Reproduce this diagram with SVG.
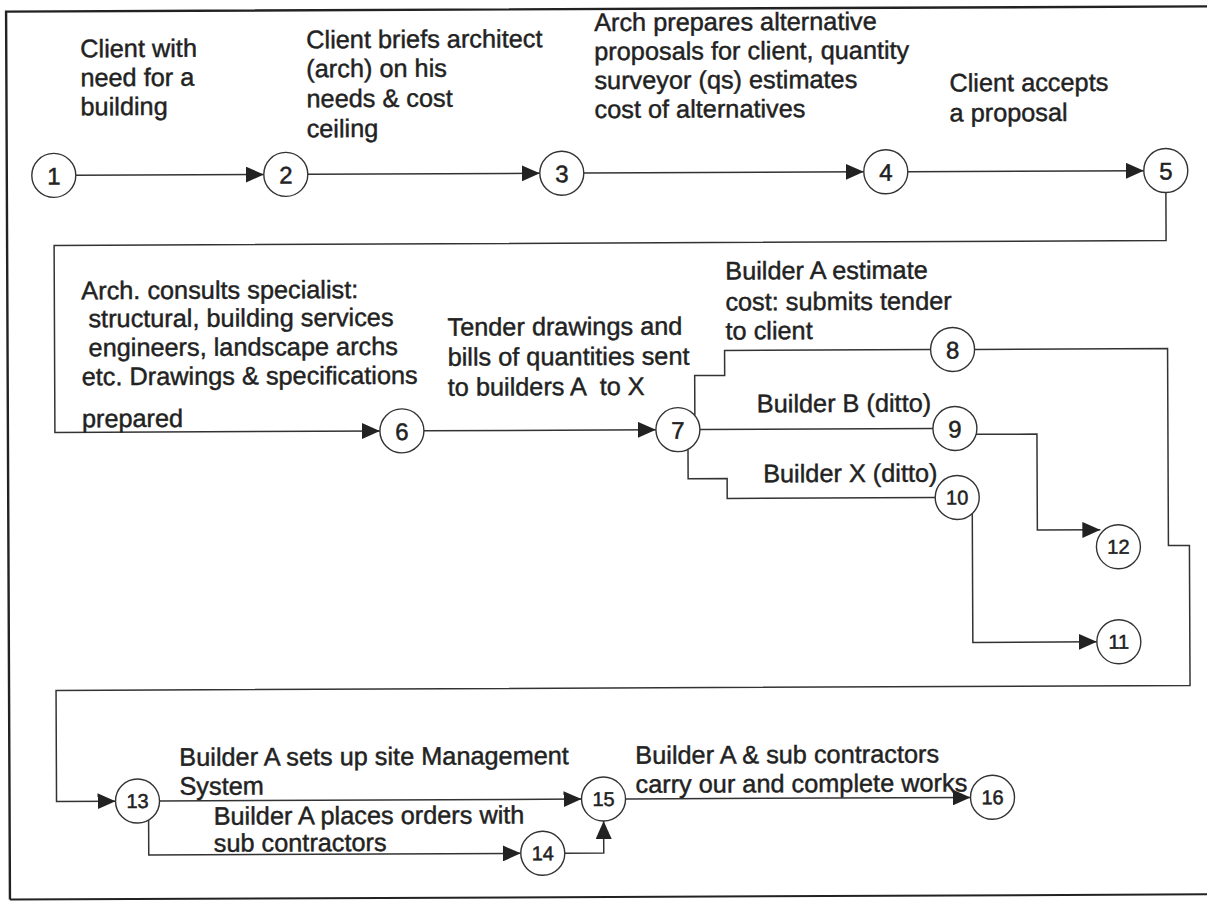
<svg xmlns="http://www.w3.org/2000/svg" width="1207" height="901" viewBox="0 0 1207 901">
  <style>
    .lbl { font-family: "Liberation Sans", Arial, sans-serif; font-size: 25.3px; fill: #222; stroke: #222; stroke-width: 0.45; }
    .num { font-family: "Liberation Sans", Arial, sans-serif; font-size: 24px; fill: #222; stroke: #222; stroke-width: 0.5; text-anchor: middle; }
    .num2 { font-family: "Liberation Sans", Arial, sans-serif; font-size: 20px; fill: #222; stroke: #222; stroke-width: 0.5; text-anchor: middle; }
    .node circle { fill: #fff; stroke: #333; stroke-width: 1.4; }
    .conn path { fill: none; stroke: #333; stroke-width: 1.5; }
    .arrow { marker-end: url(#arr); }
    .frame { fill: none; stroke: #222; }
  </style>
  <defs>
    <marker id="arr" viewBox="0 0 18 16" refX="18" refY="8" markerWidth="18" markerHeight="16" markerUnits="userSpaceOnUse" orient="auto">
      <path d="M0,0 L18,8 L0,16 z" fill="#222"/>
    </marker>
  </defs>
  <rect width="1207" height="901" fill="#fff"/>

  <!-- whole sheet sits slightly tilted -->
  <g transform="rotate(-0.25 603 450)">
    <!-- outer frame -->
    <path class="frame" d="M1215,9 H8 V897" stroke-width="2.4"/>
    <path class="frame" d="M8,897 H1215" stroke-width="2" stroke="#444"/>

    <!-- connectors -->
    <g class="conn" id="connectors">
      <path class="arrow" d="M77,173 H265"/>
      <path class="arrow" d="M309,173 H541"/>
      <path class="arrow" d="M585,173 H865"/>
      <path class="arrow" d="M909,173 H1145"/>
      <path class="arrow" d="M1167,195 V243 H55 V430 H380"/>
      <path class="arrow" d="M424,430 H656"/>
      <path d="M695,416 V376 H725 V351 H931"/>
      <path d="M700,430 H933"/>
      <path d="M688,450 V479 H727 V499 H935"/>
      <path class="arrow" d="M976,436 H1037 V532 H1100"/>
      <path class="arrow" d="M972,515 V644 H1096"/>
      <path class="arrow" d="M975,351 H1168 V548 H1189 V688 H55 V799 H114"/>
      <path class="arrow" d="M158,799 H580"/>
      <path class="arrow" d="M147,818 V853 H519"/>
      <path class="arrow" d="M563,853 H602 V821"/>
      <path class="arrow" d="M624,799 H969"/>
    </g>

    <!-- activity labels -->
    <g id="labels">
      <text class="lbl" x="82" y="55">Client with</text>
      <text class="lbl" x="82" y="84">need for a</text>
      <text class="lbl" x="82" y="113">building</text>

      <text class="lbl" x="308" y="47">Client briefs architect</text>
      <text class="lbl" x="308" y="76">(arch) on his</text>
      <text class="lbl" x="308" y="106">needs &amp; cost</text>
      <text class="lbl" x="308" y="136">ceiling</text>

      <text class="lbl" x="596" y="31">Arch prepares alternative</text>
      <text class="lbl" x="596" y="60">proposals for client, quantity</text>
      <text class="lbl" x="596" y="89">surveyor (qs) estimates</text>
      <text class="lbl" x="596" y="118">cost of alternatives</text>

      <text class="lbl" x="951" y="93">Client accepts</text>
      <text class="lbl" x="951" y="123">a proposal</text>

      <text class="lbl" x="82" y="297">Arch. consults specialist:</text>
      <text class="lbl" x="89" y="325">structural, building services</text>
      <text class="lbl" x="89" y="354">engineers, landscape archs</text>
      <text class="lbl" x="82" y="383">etc. Drawings &amp; specifications</text>
      <text class="lbl" x="82" y="425">prepared</text>

      <text class="lbl" x="448" y="335">Tender drawings and</text>
      <text class="lbl" x="448" y="365">bills of quantities sent</text>
      <text class="lbl" x="448" y="395" xml:space="preserve">to builders A  to X</text>

      <text class="lbl" x="726" y="280">Builder A estimate</text>
      <text class="lbl" x="726" y="311">cost: submits tender</text>
      <text class="lbl" x="726" y="340">to client</text>

      <text class="lbl" x="757" y="413">Builder B (ditto)</text>
      <text class="lbl" x="763" y="483">Builder X (ditto)</text>

      <text class="lbl" x="178" y="764">Builder A sets up site Management</text>
      <text class="lbl" x="178" y="793">System</text>
      <text class="lbl" x="212" y="823">Builder A places orders with</text>
      <text class="lbl" x="212" y="850">sub contractors</text>

      <text class="lbl" x="634" y="764">Builder A &amp; sub contractors</text>
      <text class="lbl" x="634" y="793">carry our and complete works</text>
    </g>

    <!-- event nodes -->
    <g class="node" id="n1"><circle cx="55" cy="173" r="22"/><text class="num" x="55" y="182">1</text></g>
    <g class="node" id="n2"><circle cx="287" cy="173" r="22"/><text class="num" x="287" y="182">2</text></g>
    <g class="node" id="n3"><circle cx="563" cy="173" r="22"/><text class="num" x="563" y="182">3</text></g>
    <g class="node" id="n4"><circle cx="887" cy="173" r="22"/><text class="num" x="887" y="182">4</text></g>
    <g class="node" id="n5"><circle cx="1167" cy="173" r="22"/><text class="num" x="1167" y="182">5</text></g>
    <g class="node" id="n6"><circle cx="402" cy="430" r="22"/><text class="num" x="402" y="439">6</text></g>
    <g class="node" id="n7"><circle cx="678" cy="430" r="22"/><text class="num" x="678" y="439">7</text></g>
    <g class="node" id="n8"><circle cx="953" cy="351" r="22"/><text class="num" x="953" y="360">8</text></g>
    <g class="node" id="n9"><circle cx="955" cy="430" r="22"/><text class="num" x="955" y="439">9</text></g>
    <g class="node" id="n10"><circle cx="957" cy="499" r="22"/><text class="num2" x="957" y="506">10</text></g>
    <g class="node" id="n11"><circle cx="1118" cy="644" r="22"/><text class="num2" x="1118" y="651">11</text></g>
    <g class="node" id="n12"><circle cx="1118" cy="549" r="22"/><text class="num2" x="1118" y="556">12</text></g>
    <g class="node" id="n13"><circle cx="136" cy="799" r="22"/><text class="num2" x="136" y="806">13</text></g>
    <g class="node" id="n14"><circle cx="541" cy="853" r="22"/><text class="num2" x="541" y="860">14</text></g>
    <g class="node" id="n15"><circle cx="602" cy="799" r="22"/><text class="num2" x="602" y="806">15</text></g>
    <g class="node" id="n16"><circle cx="991" cy="799" r="22"/><text class="num2" x="991" y="806">16</text></g>
  </g>
</svg>
